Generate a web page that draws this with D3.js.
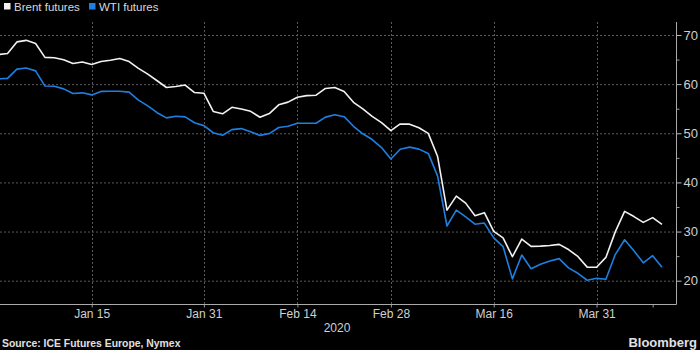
<!DOCTYPE html>
<html><head><meta charset="utf-8">
<script src="https://cdn.jsdelivr.net/npm/d3@7"></script>
<style>
html,body{margin:0;padding:0;background:#000;}
svg{display:block;}
text{font-family:"Liberation Sans","Open Sans",Arial,sans-serif;}
</style></head>
<body>
<svg id="chart" width="700" height="350"></svg>
<script>
// Trading days (categories)
const dates = [
 "2019-12-31","2020-01-02","2020-01-03","2020-01-06","2020-01-07","2020-01-08","2020-01-09","2020-01-10",
 "2020-01-13","2020-01-14","2020-01-15","2020-01-16","2020-01-17","2020-01-20","2020-01-21","2020-01-22",
 "2020-01-23","2020-01-24","2020-01-27","2020-01-28","2020-01-29","2020-01-30","2020-01-31",
 "2020-02-03","2020-02-04","2020-02-05","2020-02-06","2020-02-07","2020-02-10","2020-02-11","2020-02-12",
 "2020-02-13","2020-02-14","2020-02-17","2020-02-18","2020-02-19","2020-02-20","2020-02-21","2020-02-24",
 "2020-02-25","2020-02-26","2020-02-27","2020-02-28",
 "2020-03-02","2020-03-03","2020-03-04","2020-03-05","2020-03-06","2020-03-09","2020-03-10","2020-03-11",
 "2020-03-12","2020-03-13","2020-03-16","2020-03-17","2020-03-18","2020-03-19","2020-03-20","2020-03-23",
 "2020-03-24","2020-03-25","2020-03-26","2020-03-27","2020-03-30","2020-03-31",
 "2020-04-01","2020-04-02","2020-04-03","2020-04-06","2020-04-07","2020-04-08","2020-04-09"
];
const brent = [
 66.00,66.25,68.60,68.91,68.27,65.44,65.37,64.98,64.20,64.49,64.00,64.62,64.85,65.20,64.59,63.21,
 62.04,60.69,59.32,59.51,59.81,58.29,58.16,
 54.45,53.96,55.28,54.93,54.47,53.27,54.01,55.79,56.34,57.32,57.67,57.75,59.12,59.31,58.50,56.30,
 54.95,53.43,52.18,50.52,
 51.90,51.86,51.13,49.99,45.27,34.36,37.22,35.79,33.22,33.85,30.05,28.73,24.88,28.47,26.98,27.03,
 27.15,27.39,26.34,24.93,22.76,22.74,
 24.74,29.94,34.11,33.05,31.87,32.84,31.48
];
const wti = [
 61.06,61.18,63.05,63.27,62.70,59.61,59.56,59.04,58.08,58.23,57.81,58.52,58.54,58.54,58.38,56.74,
 55.59,54.19,53.14,53.48,53.33,52.14,51.56,
 50.11,49.61,50.75,50.95,50.32,49.57,49.94,51.17,51.42,52.05,52.05,52.05,53.29,53.78,53.38,51.43,
 49.90,48.73,47.09,44.76,
 46.75,47.18,46.78,45.90,41.28,31.13,34.36,32.98,31.50,31.73,28.70,26.95,20.37,25.22,22.43,23.36,
 24.01,24.49,22.60,21.51,20.09,20.48,
 20.31,25.32,28.34,26.08,23.63,25.09,22.76
];
const xTickDates = ["2020-01-15","2020-01-31","2020-02-14","2020-02-28","2020-03-16","2020-03-31"];
const xTickLabels = ["Jan 15","Jan 31","Feb 14","Feb 28","Mar 16","Mar 31"];
const xExtraTicks = ["2020-04-08"];
const yTicks = [20,30,40,50,60,70];
const yMinorTicks = [25,35,45,55,65];
const seriesNames = ["Brent futures","WTI futures"];
const seriesColors = ["#f2f2f2","#1f7fe0"];

const svg = d3.select("#chart");
const W = 700, H = 350;
const plot = {left:0, right:676, top:22, bottom:304};

const x = d3.scalePoint().domain(dates).range([-1.8, 662]);
const y = d3.scaleLinear().domain([20,70]).range([280.7, 35]);

svg.append("rect").attr("width",W).attr("height",H).attr("fill","#000");

svg.append("defs").append("clipPath").attr("id","clip")
  .append("rect").attr("x",plot.left).attr("y",plot.top)
  .attr("width",plot.right-plot.left).attr("height",plot.bottom-plot.top);

// grid
const grid = svg.append("g");
grid.selectAll(".hg").data(yTicks).join("line")
  .attr("x1",plot.left).attr("x2",plot.right)
  .attr("y1",d=>y(d)+0.5).attr("y2",d=>y(d)+0.5)
  .attr("stroke","#5a5a5a").attr("stroke-width",1).attr("stroke-dasharray","2,2");
grid.selectAll(".vg").data(xTickDates).join("line")
  .attr("x1",d=>Math.round(x(d))+0.5).attr("x2",d=>Math.round(x(d))+0.5)
  .attr("y1",plot.top).attr("y2",plot.bottom)
  .attr("stroke","#5a5a5a").attr("stroke-width",1).attr("stroke-dasharray","2,2");

// right y axis
const yAxis = d3.axisRight(y).tickValues(yTicks).tickSize(5).tickPadding(2).tickFormat(d3.format("d"));
const ya = svg.append("g").attr("transform",`translate(${plot.right+0.5},0)`).call(yAxis);
ya.select(".domain").remove();
ya.selectAll("line").attr("stroke","#bbb");
ya.selectAll("text").attr("fill","#d0d0d0").attr("font-size",13);
const yMinor = d3.axisRight(y).tickValues(yMinorTicks).tickSize(3).tickFormat("");
const ym = svg.append("g").attr("transform",`translate(${plot.right+0.5},0)`).call(yMinor);
ym.select(".domain").remove();
ym.selectAll("line").attr("stroke","#999");
svg.append("line").attr("x1",plot.right+0.5).attr("x2",plot.right+0.5)
  .attr("y1",plot.top).attr("y2",plot.bottom+0.5).attr("stroke","#aaa");

// bottom x axis
const xAxis = d3.axisBottom(x).tickValues(xTickDates)
  .tickFormat((d,i)=>xTickLabels[i]).tickSize(3).tickPadding(2);
const xa = svg.append("g").attr("transform",`translate(0,${plot.bottom+0.5})`).call(xAxis);
xa.select(".domain").remove();
xa.selectAll("line").attr("stroke","#999");
xa.selectAll("text").attr("fill","#d0d0d0").attr("font-size",12);
const xMinor = d3.axisBottom(x).tickValues(xExtraTicks).tickSize(3).tickFormat("");
const xm = svg.append("g").attr("transform",`translate(0,${plot.bottom+0.5})`).call(xMinor);
xm.select(".domain").remove();
xm.selectAll("line").attr("stroke","#999");
svg.append("line").attr("x1",plot.left).attr("x2",plot.right+0.5)
  .attr("y1",plot.bottom+0.5).attr("y2",plot.bottom+0.5).attr("stroke","#aaa");

svg.append("text").attr("x",337).attr("y",332).attr("text-anchor","middle")
  .attr("fill","#d0d0d0").attr("font-size",12).text("2020");

// lines
const line = d3.line().x((d,i)=>x(dates[i])).y(d=>y(d));
const lines = svg.append("g").attr("clip-path","url(#clip)");
[brent,wti].forEach((s,k)=>{
  lines.append("path").datum(s).attr("d",line).attr("fill","none")
    .attr("stroke",seriesColors[k]).attr("stroke-width",1.6).attr("stroke-linejoin","round");
});

// legend
const legX = [4, 89];
seriesNames.forEach((n,k)=>{
  svg.append("rect").attr("x",legX[k]).attr("y",3).attr("width",6.5).attr("height",6.5)
    .attr("fill",seriesColors[k]);
  svg.append("text").attr("x",legX[k]+10).attr("y",11).attr("fill","#d8d8d8")
    .attr("font-size",11.5).text(n);
});

// footer
svg.append("text").attr("x",2).attr("y",347).attr("fill","#e0e0e0")
  .attr("font-family","'DejaVu Sans',sans-serif")
  .attr("font-size",10.4).attr("font-weight","bold").text("Source: ICE Futures Europe, Nymex");
svg.append("text").attr("x",697).attr("y",347).attr("text-anchor","end").attr("fill","#e0e0e0")
  .attr("font-size",13).attr("font-weight","bold").text("Bloomberg");
</script>
</body></html>
